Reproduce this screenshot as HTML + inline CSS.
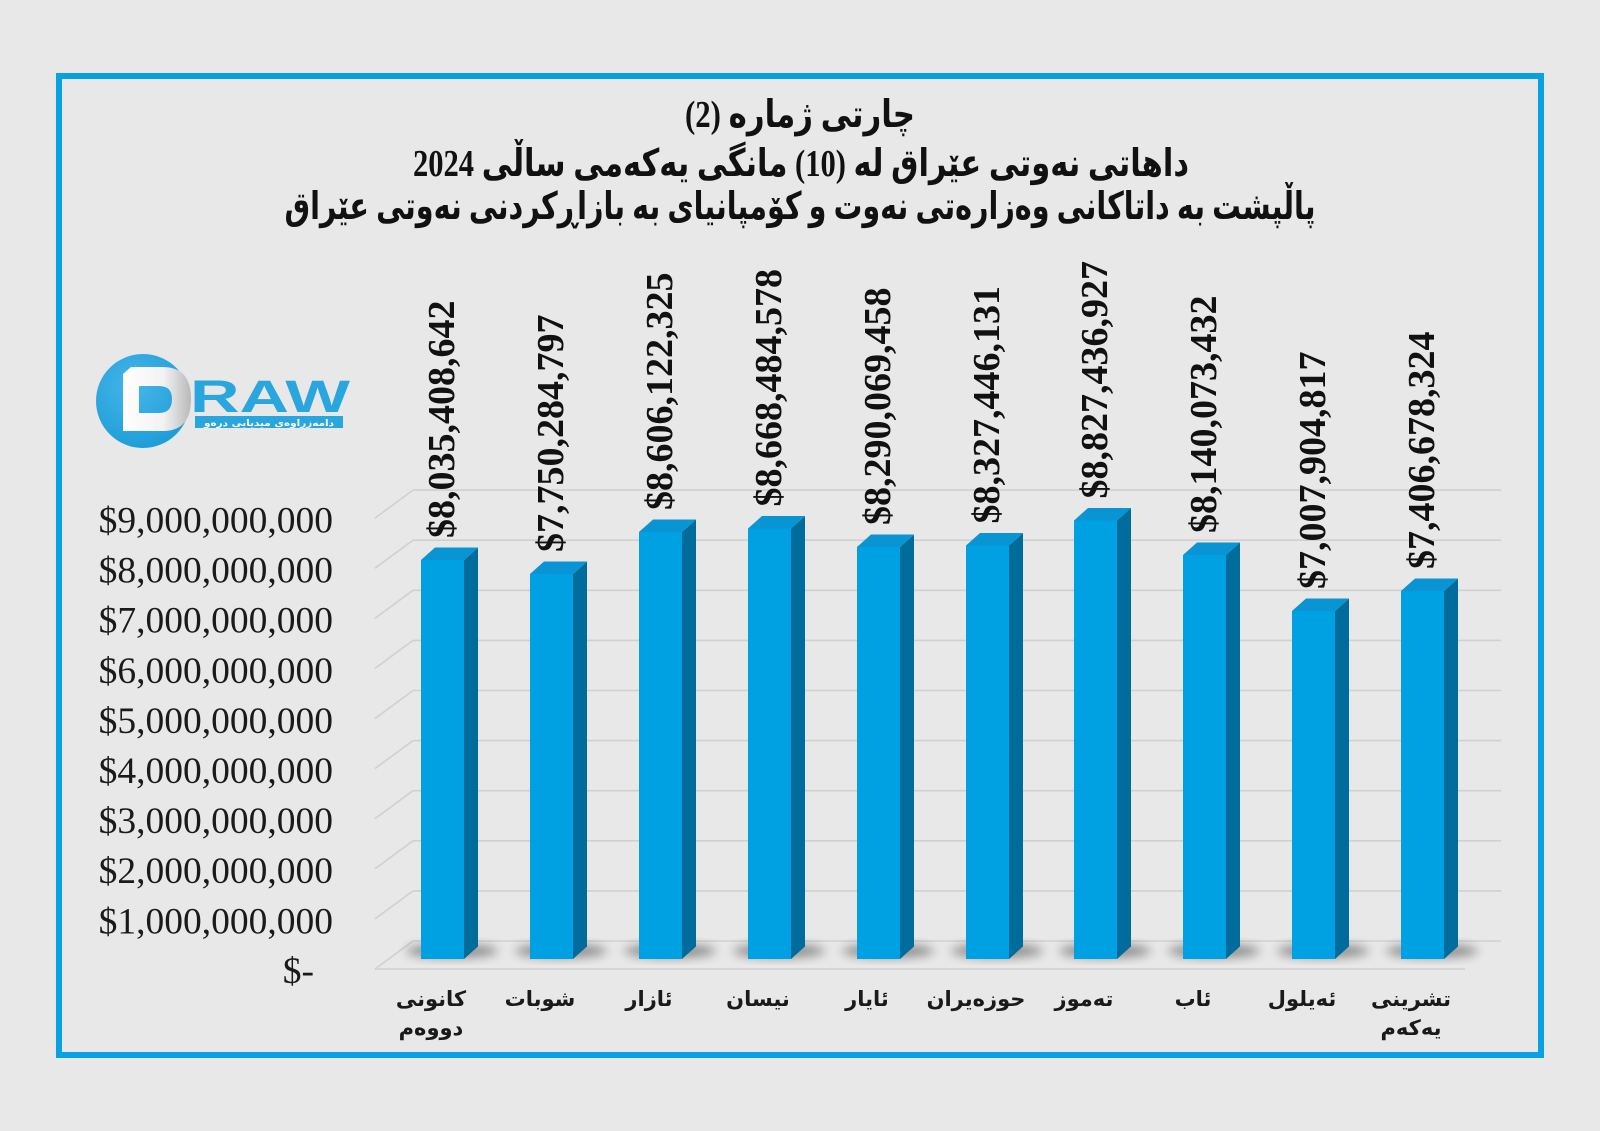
<!DOCTYPE html>
<html>
<head>
<meta charset="utf-8">
<style>
  html, body { margin:0; padding:0; background:#e8e8e8; }
  body { width:1600px; height:1131px; overflow:hidden; }
  svg { display:block; }
  .ttl { font-family:"Liberation Serif","DejaVu Sans",sans-serif; font-weight:bold; font-size:38px; fill:#111; }
  .yl { font-family:"Liberation Serif",serif; font-size:37.5px; fill:#1a1a1a; }
  .dl { font-family:"Liberation Serif",serif; font-weight:bold; font-size:38px; fill:#111; }
  .ml { font-family:"DejaVu Sans","Liberation Sans",sans-serif; font-weight:bold; font-size:21px; fill:#1a1a1a; }
</style>
</head>
<body>
<svg width="1600" height="1131" viewBox="0 0 1600 1131" xmlns="http://www.w3.org/2000/svg">
  <defs>
    <filter id="blur" x="-50%" y="-50%" width="200%" height="200%">
      <feGaussianBlur stdDeviation="5"/>
    </filter>
    <linearGradient id="dgrad" x1="0" y1="0" x2="1" y2="0">
      <stop offset="0" stop-color="#ffffff"/>
      <stop offset="0.6" stop-color="#f2f2f2"/>
      <stop offset="1" stop-color="#b9b9b9"/>
    </linearGradient>
    <radialGradient id="cgrad" cx="0.4" cy="0.35" r="0.7">
      <stop offset="0" stop-color="#45b6e8"/>
      <stop offset="1" stop-color="#1d9cd8"/>
    </radialGradient>
  </defs>

  <rect x="0" y="0" width="1600" height="1131" fill="#e8e8e8"/>

  <!-- frame -->
  <rect x="59" y="76" width="1482" height="979" fill="none" stroke="#08a2e2" stroke-width="6"/>

  <!-- title -->
  <text class="ttl" x="800" y="127" text-anchor="middle" direction="rtl" textLength="230" lengthAdjust="spacingAndGlyphs">چارتی ژمارە (2)</text>
  <text class="ttl" x="801" y="176" text-anchor="middle" direction="rtl" textLength="776" lengthAdjust="spacingAndGlyphs">داهاتی نەوتی عێراق لە (10) مانگی یەکەمی ساڵی 2024</text>
  <text class="ttl" x="800" y="219" text-anchor="middle" direction="rtl" textLength="1031" lengthAdjust="spacingAndGlyphs">پاڵپشت بە داتاکانی وەزارەتی نەوت و کۆمپانیای بە بازاڕکردنی نەوتی عێراق</text>

  <!-- logo -->
  <circle cx="143" cy="401" r="47" fill="url(#cgrad)"/>
  <path fill-rule="evenodd" fill="url(#dgrad)" d="M123,374 L131,367 L163,367 Q191,367 191,399 Q191,431 163,431 L123,431 Z M139,386 L159,386 Q172,386 172,399 Q172,413 159,413 L139,413 Z"/>
  <text x="190" y="412" font-family="Liberation Sans, sans-serif" font-weight="bold" font-size="45" fill="#2aa6df" textLength="160" lengthAdjust="spacingAndGlyphs">RAW</text>
  <rect x="195" y="416" width="148" height="12" fill="#2aa6df"/>
  <text x="269" y="426" text-anchor="middle" direction="rtl" font-family="DejaVu Sans, sans-serif" font-weight="bold" font-size="9" fill="#ffffff" textLength="130" lengthAdjust="spacingAndGlyphs">دامەزراوەی میدیایی درەو</text>

  <!-- gridlines -->
  <g stroke="#d0d0d0" stroke-width="1.6" fill="none">
    <line x1="413" y1="490.1" x2="1501" y2="490.1"/>
    <line x1="413" y1="540.2" x2="1501" y2="540.2"/>
    <line x1="413" y1="590.3" x2="1501" y2="590.3"/>
    <line x1="413" y1="640.4" x2="1501" y2="640.4"/>
    <line x1="413" y1="690.5" x2="1501" y2="690.5"/>
    <line x1="413" y1="740.6" x2="1501" y2="740.6"/>
    <line x1="413" y1="790.7" x2="1501" y2="790.7"/>
    <line x1="413" y1="840.8" x2="1501" y2="840.8"/>
    <line x1="413" y1="890.9" x2="1501" y2="890.9"/>
    <line x1="413" y1="941" x2="1501" y2="941"/>
    <line x1="413" y1="490.1" x2="375" y2="518.1"/>
    <line x1="413" y1="540.2" x2="375" y2="568.2"/>
    <line x1="413" y1="590.3" x2="375" y2="618.3"/>
    <line x1="413" y1="640.4" x2="375" y2="668.4"/>
    <line x1="413" y1="690.5" x2="375" y2="718.5"/>
    <line x1="413" y1="740.6" x2="375" y2="768.6"/>
    <line x1="413" y1="790.7" x2="375" y2="818.7"/>
    <line x1="413" y1="840.8" x2="375" y2="868.8"/>
    <line x1="413" y1="890.9" x2="375" y2="918.9"/>
    <line x1="413" y1="941" x2="375" y2="969"/>
    <line x1="375" y1="969" x2="1465" y2="969"/>
  </g>

  <!-- y labels -->
  <g class="yl" text-anchor="end">
    <text x="333" y="532.5">$9,000,000,000</text>
    <text x="333" y="582.6">$8,000,000,000</text>
    <text x="333" y="632.7">$7,000,000,000</text>
    <text x="333" y="682.8">$6,000,000,000</text>
    <text x="333" y="732.9">$5,000,000,000</text>
    <text x="333" y="783">$4,000,000,000</text>
    <text x="333" y="833.1">$3,000,000,000</text>
    <text x="333" y="883.2">$2,000,000,000</text>
    <text x="333" y="933.3">$1,000,000,000</text>
    <text x="314" y="983">$-</text>
  </g>

  <!-- shadows -->
  <g fill="#000" opacity="0.38" filter="url(#blur)">
    <ellipse cx="452" cy="951" rx="46" ry="7"/>
    <ellipse cx="561" cy="951" rx="46" ry="7"/>
    <ellipse cx="670" cy="951" rx="46" ry="7"/>
    <ellipse cx="779" cy="951" rx="46" ry="7"/>
    <ellipse cx="888" cy="951" rx="46" ry="7"/>
    <ellipse cx="997" cy="951" rx="46" ry="7"/>
    <ellipse cx="1105" cy="951" rx="46" ry="7"/>
    <ellipse cx="1214" cy="951" rx="46" ry="7"/>
    <ellipse cx="1323" cy="951" rx="46" ry="7"/>
    <ellipse cx="1432" cy="951" rx="46" ry="7"/>
  </g>

  <!-- bars -->
  <g>
    <!-- 0 -->
    <polygon fill="#006c9c" points="464,560 478,547.5 478,946.5 464,959"/>
    <polygon fill="#0994d3" points="421,560 435,547.5 478,547.5 464,560"/>
    <rect fill="#00a1e3" x="421" y="560" width="43" height="399"/>
    <!-- 1 -->
    <polygon fill="#006c9c" points="573,574 587,561.5 587,946.5 573,959"/>
    <polygon fill="#0994d3" points="530,574 544,561.5 587,561.5 573,574"/>
    <rect fill="#00a1e3" x="530" y="574" width="43" height="385"/>
    <!-- 2 -->
    <polygon fill="#006c9c" points="682,532 696,519.5 696,946.5 682,959"/>
    <polygon fill="#0994d3" points="639,532 653,519.5 696,519.5 682,532"/>
    <rect fill="#00a1e3" x="639" y="532" width="43" height="427"/>
    <!-- 3 -->
    <polygon fill="#006c9c" points="791,528.5 805,516 805,946.5 791,959"/>
    <polygon fill="#0994d3" points="748,528.5 762,516 805,516 791,528.5"/>
    <rect fill="#00a1e3" x="748" y="528.5" width="43" height="430.5"/>
    <!-- 4 -->
    <polygon fill="#006c9c" points="900,547 914,534.5 914,946.5 900,959"/>
    <polygon fill="#0994d3" points="857,547 871,534.5 914,534.5 900,547"/>
    <rect fill="#00a1e3" x="857" y="547" width="43" height="412"/>
    <!-- 5 -->
    <polygon fill="#006c9c" points="1009,545.5 1023,533 1023,946.5 1009,959"/>
    <polygon fill="#0994d3" points="966,545.5 980,533 1023,533 1009,545.5"/>
    <rect fill="#00a1e3" x="966" y="545.5" width="43" height="413.5"/>
    <!-- 6 -->
    <polygon fill="#006c9c" points="1117,520.5 1131,508 1131,946.5 1117,959"/>
    <polygon fill="#0994d3" points="1074,520.5 1088,508 1131,508 1117,520.5"/>
    <rect fill="#00a1e3" x="1074" y="520.5" width="43" height="438.5"/>
    <!-- 7 -->
    <polygon fill="#006c9c" points="1226,555 1240,542.5 1240,946.5 1226,959"/>
    <polygon fill="#0994d3" points="1183,555 1197,542.5 1240,542.5 1226,555"/>
    <rect fill="#00a1e3" x="1183" y="555" width="43" height="404"/>
    <!-- 8 -->
    <polygon fill="#006c9c" points="1335,611 1349,598.5 1349,946.5 1335,959"/>
    <polygon fill="#0994d3" points="1292,611 1306,598.5 1349,598.5 1335,611"/>
    <rect fill="#00a1e3" x="1292" y="611" width="43" height="348"/>
    <!-- 9 -->
    <polygon fill="#006c9c" points="1444,591 1458,578.5 1458,946.5 1444,959"/>
    <polygon fill="#0994d3" points="1401,591 1415,578.5 1458,578.5 1444,591"/>
    <rect fill="#00a1e3" x="1401" y="591" width="43" height="368"/>
  </g>

  <!-- data labels -->
  <g class="dl">
    <text transform="translate(454,538) rotate(-90)">$8,035,408,642</text>
    <text transform="translate(563,552) rotate(-90)">$7,750,284,797</text>
    <text transform="translate(672,510) rotate(-90)">$8,606,122,325</text>
    <text transform="translate(781,506.5) rotate(-90)">$8,668,484,578</text>
    <text transform="translate(890,525) rotate(-90)">$8,290,069,458</text>
    <text transform="translate(999,523.5) rotate(-90)">$8,327,446,131</text>
    <text transform="translate(1107,498.5) rotate(-90)">$8,827,436,927</text>
    <text transform="translate(1216,533) rotate(-90)">$8,140,073,432</text>
    <text transform="translate(1325,589) rotate(-90)">$7,007,904,817</text>
    <text transform="translate(1434,569) rotate(-90)">$7,406,678,324</text>
  </g>

  <!-- month labels -->
  <g class="ml" text-anchor="middle" direction="rtl">
    <text x="431" y="1006">کانونی</text>
    <text x="431" y="1035">دووەم</text>
    <text x="540" y="1006">شوبات</text>
    <text x="649" y="1006">ئازار</text>
    <text x="758" y="1006">نیسان</text>
    <text x="867" y="1006">ئایار</text>
    <text x="976" y="1006">حوزەیران</text>
    <text x="1084" y="1006">تەموز</text>
    <text x="1193" y="1006">ئاب</text>
    <text x="1302" y="1006">ئەیلول</text>
    <text x="1411" y="1006">تشرینی</text>
    <text x="1411" y="1035">یەکەم</text>
  </g>
</svg>
</body>
</html>
